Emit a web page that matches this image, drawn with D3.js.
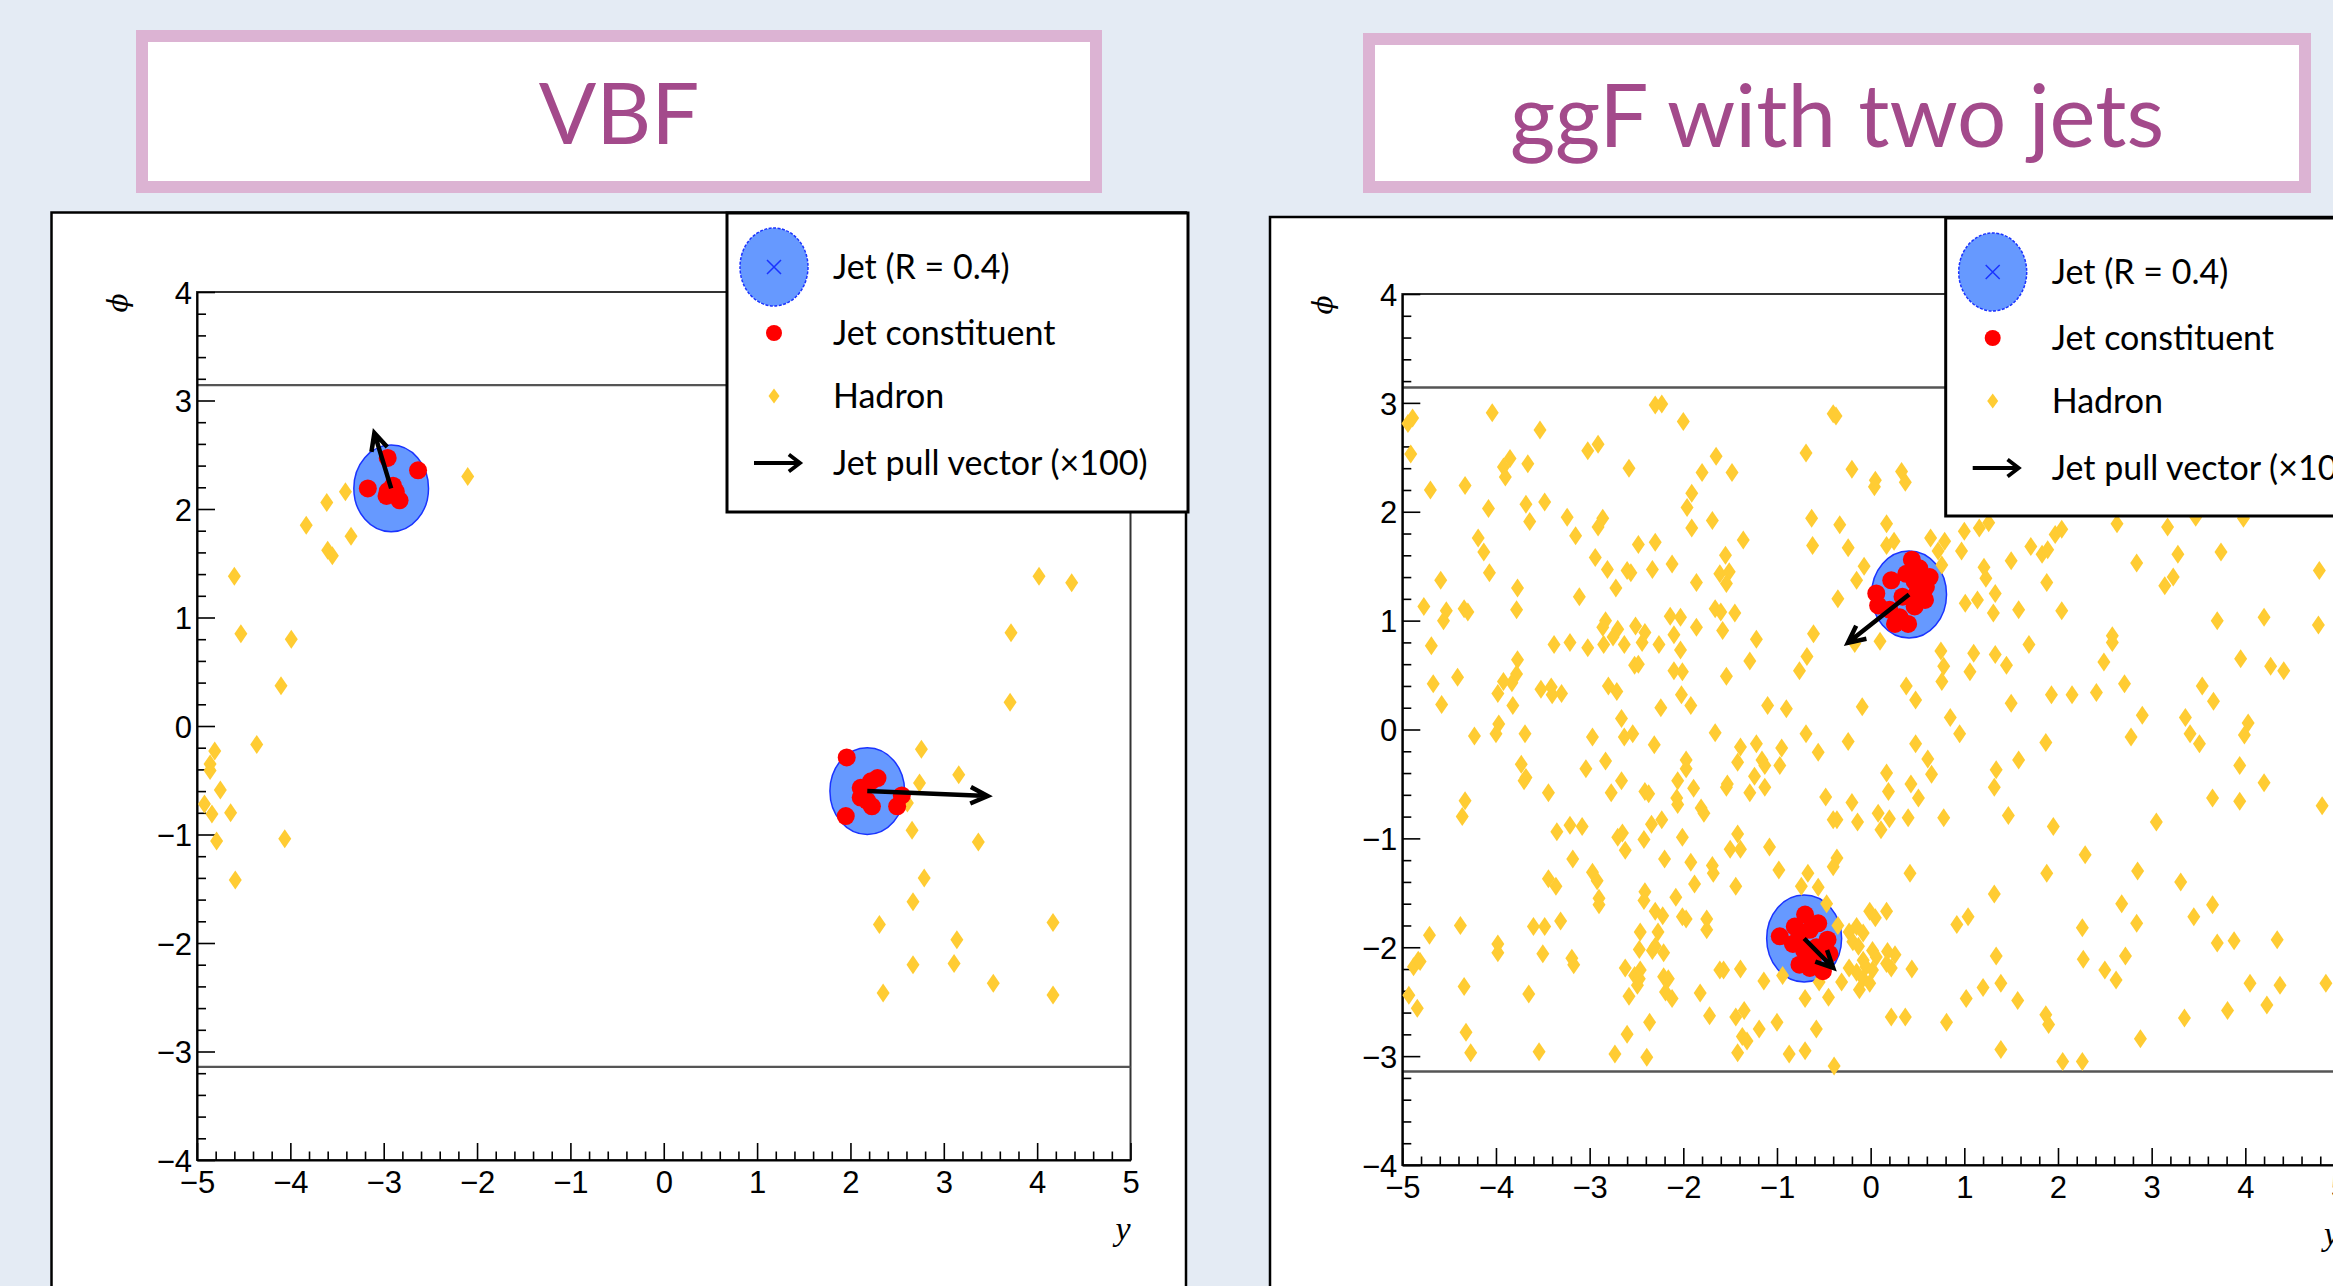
<!DOCTYPE html>
<html><head><meta charset="utf-8">
<script src="https://cdn.jsdelivr.net/npm/d3@7"></script>
<style>
html,body{margin:0;padding:0;background:#e4ebf4;overflow:hidden}
svg{display:block}
</style></head><body>
<script>
// ---------------- DATA ----------------
const panelTitles = ["VBF", "ggF with two jets"];
const legendLabels = ["Jet (R = 0.4)", "Jet constituent", "Hadron", "Jet pull vector (\u00d7100)"];
const xTicks = [-5,-4,-3,-2,-1,0,1,2,3,4,5];
const yTicks = [-4,-3,-2,-1,0,1,2,3,4];
const xLabel = "y";
const yLabel = "\u03d5";
const jetRadius = 0.4;

// VBF event: [rapidity y, phi]
const vbfJets = [[-2.92,2.19],[2.18,-0.60]];
const vbfPullEnds = [[-3.10,2.70],[3.47,-0.645]];
const vbfConstituents = [
 [-2.957,2.471],[-2.632,2.356],[-3.17,2.19],[-2.957,2.166],[-2.90,2.215],[-2.87,2.16],[-2.83,2.08],[-2.97,2.12],
 [1.96,-0.29],[2.29,-0.48],[2.22,-0.51],[2.11,-0.57],[2.11,-0.66],[2.23,-0.74],[2.55,-0.64],[2.50,-0.74],[1.95,-0.83],[2.18,-0.69]
];
const vbfHadrons = [
 [-2.10,2.30],[-3.41,2.16],[-3.61,2.06],[-3.83,1.85],[-3.35,1.75],[-3.60,1.62],[-3.55,1.57],[-4.60,1.38],[-4.53,0.85],[-3.99,0.80],
 [-4.10,0.37],[-4.36,-0.17],[-4.81,-0.23],[-4.86,-0.35],[-4.86,-0.41],[-4.75,-0.59],[-4.92,-0.72],[-4.84,-0.81],[-4.64,-0.80],[-4.79,-1.06],
 [-4.06,-1.04],[-4.59,-1.42],
 [3.71,0.22],[3.72,0.86],[4.02,1.38],[4.37,1.32],[2.76,-0.215],[3.16,-0.45],[2.74,-0.525],[2.61,-0.71],[2.66,-0.96],[3.37,-1.07],
 [2.79,-1.40],[2.67,-1.62],[2.31,-1.83],[3.14,-1.97],[4.17,-1.81],[2.67,-2.20],[3.11,-2.19],[3.53,-2.37],[2.35,-2.46],[4.17,-2.48]
];

// ggF event with two jets
const ggfJets = [[0.41,1.24],[-0.71,-1.92]];
const ggfPullEnds = [[-0.243,0.796],[-0.40,-2.19]];
const ggfConstituents = [
 [0.44,1.56],[0.52,1.48],[0.63,1.40],[0.59,1.31],[0.22,1.37],[0.06,1.25],[0.08,1.14],[0.38,1.43],[0.47,1.36],[0.50,1.26],
 [0.47,1.13],[0.31,1.03],[0.40,0.97],[0.26,0.97],[0.20,1.10],[0.58,1.19],[0.34,1.22],
 [-0.70,-1.70],[-0.56,-1.78],[-0.81,-1.81],[-0.97,-1.90],[-0.76,-1.89],[-0.65,-1.84],[-0.46,-1.93],[-0.83,-1.97],[-0.71,-2.03],
 [-0.58,-2.00],[-0.44,-2.06],[-0.76,-2.16],[-0.65,-2.19],[-0.51,-2.22],[-0.62,-2.12]
];
const ggfHadrons = [
 [-4.94,2.81],[-4.89,2.86],[-4.91,2.53],[-4.04,2.91],[-3.53,2.75],[-2.30,2.98],[-2.23,2.99],[-2.00,2.83],[-3.02,2.56],[-2.91,2.62],
 [-3.85,2.49],[-3.92,2.41],[-3.90,2.32],[-3.66,2.44],[-2.58,2.40],[-1.80,2.36],[-4.70,2.20],[-4.33,2.24],[-4.08,2.03],[-3.68,2.07],
 [-3.64,1.91],[-3.48,2.09],[-3.24,1.95],[-3.15,1.78],[-2.91,1.86],[-2.86,1.94],[-1.91,2.17],[-1.96,2.04],[-1.91,1.85],
 [-4.19,1.76],[-4.13,1.63],[-4.07,1.44],[-4.59,1.37],[-3.77,1.30],[-3.11,1.22],[-2.94,1.58],[-2.81,1.47],[-2.72,1.30],[-2.60,1.46],[-2.56,1.44],
 [-2.48,1.70],[-2.30,1.72],[-2.33,1.47],[-2.12,1.52],[-1.86,1.35],[-4.77,1.13],[-4.53,1.09],[-4.56,1.00],[-4.34,1.11],[-4.30,1.08],
 [-3.78,1.10],[-2.83,1.00],[-2.86,0.94],[-2.75,0.85],[-2.70,0.92],[-2.51,0.95],[-2.41,0.89],[-2.44,0.80],[-2.14,1.04],[-2.03,1.03],
 [-2.10,0.87],[-1.86,0.94],[-4.69,0.77],[-3.38,0.78],[-3.21,0.80],[-3.02,0.75],[-2.85,0.78],[-2.63,0.78],[-2.26,0.78],[-2.03,0.73],
 [-3.77,0.64],[-3.78,0.51],[-3.83,0.43],[-3.92,0.44],[-2.52,0.59],[-2.48,0.60],[-2.10,0.54],[-2.01,0.53],[-4.67,0.42],[-4.41,0.48],
 [-3.98,0.33],[-3.52,0.37],[-3.41,0.39],[-3.40,0.32],[-3.30,0.33],[-2.80,0.40],[-2.71,0.35],[-2.02,0.32],[-4.58,0.23],[-3.82,0.22],
 [-2.24,0.20],[-1.92,0.22],[-2.66,0.10],[-3.97,0.05],
 [-0.40,2.90],[-0.37,2.88],[-1.65,2.51],[-1.48,2.36],[-0.69,2.54],[-0.20,2.39],[0.05,2.29],[0.04,2.23],[0.33,2.37],[0.37,2.27],
 [-1.69,1.92],[-0.63,1.94],[-0.33,1.88],[0.17,1.89],[-1.36,1.74],[-0.62,1.69],[-0.24,1.67],[0.17,1.69],[0.25,1.73],[0.64,1.76],
 [0.79,1.73],[0.72,1.64],[1.00,1.82],[1.16,1.85],[1.26,1.90],[0.97,1.64],[-1.55,1.60],[-1.61,1.43],[-1.51,1.45],[-1.54,1.34],
 [-0.07,1.50],[-0.15,1.37],[0.76,1.51],[1.50,1.55],[1.21,1.49],[1.23,1.39],[1.33,1.25],[-1.66,1.11],[-1.60,1.08],[-1.45,1.07],
 [-0.35,1.20],[1.01,1.16],[1.14,1.19],[1.31,1.07],[1.58,1.10],[-1.58,0.91],[-1.22,0.83],[-0.61,0.88],[-1.29,0.63],[-0.68,0.67],
 [-0.76,0.54],[-1.54,0.49],[0.10,0.81],[-0.17,0.79],[0.75,0.72],[0.78,0.58],[0.76,0.44],[1.06,0.53],[1.10,0.70],[1.33,0.69],
 [1.45,0.59],[0.38,0.40],[0.48,0.27],[-1.10,0.22],[-0.90,0.19],[-0.09,0.21],[1.50,0.24],[0.85,0.11],[-1.66,-0.03],
 [2.63,1.89],[3.17,1.86],[3.47,1.95],[3.98,1.94],[1.97,1.79],[2.04,1.84],[1.71,1.68],[1.83,1.61],[1.89,1.65],[2.84,1.53],
 [3.28,1.61],[3.74,1.63],[3.23,1.40],[3.14,1.32],[4.79,1.46],[1.88,1.35],[2.04,1.09],[3.70,1.00],[4.20,1.03],[4.78,0.96],
 [2.58,0.86],[2.58,0.80],[1.69,0.78],[2.49,0.62],[3.95,0.65],[4.27,0.58],[4.41,0.54],[2.71,0.42],[3.54,0.40],[3.66,0.26],
 [1.93,0.32],[2.15,0.32],[2.41,0.34],[2.90,0.13],[3.36,0.11],[4.03,0.06],
 [-4.23,-0.06],[-4.00,-0.04],[-3.69,-0.04],[-2.97,-0.07],[-2.63,-0.07],[-2.54,-0.04],[-2.31,-0.14],[-3.73,-0.32],[-3.70,-0.47],[-3.68,-0.44],
 [-3.44,-0.58],[-3.04,-0.36],[-2.83,-0.29],[-2.77,-0.58],[-2.66,-0.47],[-2.41,-0.57],[-2.37,-0.59],[-1.97,-0.28],[-1.97,-0.36],[-2.06,-0.47],
 [-1.89,-0.54],[-2.07,-0.63],[-2.06,-0.69],[-4.33,-0.655],[-4.36,-0.80],[-3.35,-0.94],[-3.21,-0.88],[-3.08,-0.89],[-2.70,-0.99],[-2.65,-0.95],
 [-2.62,-1.11],[-2.42,-1.01],[-2.34,-0.87],[-2.23,-0.83],[-2.01,-0.99],[-1.81,-0.72],[-1.78,-0.77],[-3.18,-1.19],[-2.20,-1.19],[-1.92,-1.22],
 [-3.44,-1.37],[-3.36,-1.44],[-2.97,-1.31],[-2.92,-1.39],[-2.90,-1.55],[-2.90,-1.61],[-2.41,-1.49],[-2.42,-1.57],[-2.08,-1.54],[-1.88,-1.42],
 [-4.38,-1.80],[-4.71,-1.89],[-3.60,-1.81],[-3.48,-1.81],[-3.31,-1.76],[-2.30,-1.67],[-2.22,-1.71],[-2.01,-1.72],[-1.97,-1.74],[-1.75,-1.74],
 [-1.75,-1.84],[-3.98,-1.97],[-3.98,-2.05],[-3.50,-2.06],[-3.19,-2.10],[-3.17,-2.16],[-2.46,-1.86],[-2.27,-1.86],[-2.47,-2.02],[-2.33,-2.03],
 [-2.30,-1.99],[-2.21,-2.05],[-4.88,-2.18],[-4.83,-2.12],[-4.81,-2.13],[-2.62,-2.19],[-2.52,-2.26],[-2.46,-2.21],[-2.47,-2.29],[-2.49,-2.35],
 [-2.21,-2.27],[-2.16,-2.29],[-2.58,-2.45],[-2.19,-2.41],[-2.12,-2.47],[-1.82,-2.42],[-4.93,-2.44],[-4.84,-2.56],[-4.34,-2.36],[-3.65,-2.43],
 [-1.72,-2.63],[-2.36,-2.69],[-4.32,-2.78],[-2.60,-2.80],[-4.27,-2.97],[-3.54,-2.96],[-2.73,-2.98],[-2.39,-3.01],[-1.69,-1.25],[-1.68,-1.32],
 [-1.39,-0.16],[-1.22,-0.13],[-0.95,-0.17],[-0.69,-0.04],[-0.24,-0.11],[-0.56,-0.21],[0.48,-0.13],[0.95,-0.04],[-1.42,-0.30],[-1.16,-0.28],
 [-1.13,-0.33],[-0.97,-0.33],[-1.24,-0.43],[-1.53,-0.50],[-1.54,-0.53],[-1.13,-0.53],[-1.29,-0.58],[0.61,-0.27],[0.65,-0.41],[0.17,-0.40],
 [0.19,-0.57],[0.43,-0.50],[0.51,-0.63],[-0.48,-0.62],[-0.20,-0.67],[-0.40,-0.83],[-0.36,-0.83],[-0.14,-0.85],[0.08,-0.77],[0.20,-0.82],
 [0.11,-0.92],[0.40,-0.81],[0.78,-0.81],[1.34,-0.37],[1.32,-0.53],[1.58,-0.28],[1.47,-0.79],[-1.42,-0.96],[-1.50,-1.10],[-1.39,-1.10],
 [-1.08,-1.08],[-0.98,-1.29],[-1.44,-1.44],[-0.67,-1.32],[-0.36,-1.18],[-0.40,-1.26],[-0.74,-1.44],[-0.56,-1.45],[-0.47,-1.60],[0.42,-1.32],
 [1.32,-1.51],[-0.01,-1.67],[0.05,-1.73],[0.17,-1.67],[-0.35,-1.80],[-0.23,-1.86],[-0.15,-1.81],[-0.08,-1.87],[-0.19,-1.95],[-0.13,-1.99],
 [0.02,-2.03],[0.06,-2.09],[0.18,-2.04],[0.26,-2.07],[-0.08,-2.12],[-0.23,-2.19],[-0.15,-2.23],[-0.05,-2.18],[0.02,-2.21],[0.17,-2.15],
 [0.22,-2.19],[-0.08,-2.29],[-0.01,-2.33],[-0.12,-2.39],[-0.31,-2.32],[0.44,-2.20],[0.92,-1.79],[1.04,-1.72],[1.34,-2.08],[1.39,-2.33],
 [1.20,-2.37],[1.02,-2.47],[1.57,-2.49],[-1.61,-2.21],[-1.57,-2.21],[-1.39,-2.20],[-1.14,-2.31],[-0.94,-2.26],[-0.55,-2.32],[-0.70,-2.47],
 [-0.45,-2.46],[-1.44,-2.64],[-1.35,-2.58],[-1.19,-2.75],[-1.00,-2.69],[-0.58,-2.75],[-1.37,-2.82],[-1.32,-2.86],[-1.42,-2.97],[-0.87,-2.98],
 [-0.70,-2.95],[-0.39,-3.09],[0.22,-2.64],[0.37,-2.64],[0.81,-2.69],[1.39,-2.94],
 [1.87,-0.12],[2.78,-0.07],[3.41,-0.04],[3.51,-0.13],[3.99,-0.05],[3.94,-0.33],[4.20,-0.49],[3.65,-0.63],[3.94,-0.66],[4.82,-0.70],
 [1.95,-0.89],[3.05,-0.85],[2.29,-1.15],[1.88,-1.32],[2.85,-1.30],[3.31,-1.40],[2.68,-1.60],[3.65,-1.61],[3.45,-1.72],[2.26,-1.82],
 [2.84,-1.78],[3.70,-1.96],[3.88,-1.94],[4.34,-1.93],[2.27,-2.11],[2.72,-2.08],[2.50,-2.21],[2.62,-2.30],[4.05,-2.33],[4.37,-2.35],
 [4.86,-2.33],[1.87,-2.62],[1.90,-2.71],[3.35,-2.65],[3.81,-2.58],[4.23,-2.53],[2.88,-2.84],[2.05,-3.05],[2.26,-3.05]
];

// ---------------- LAYOUT ----------------
const W = 2333, H = 1286;
const layouts = [
  { title:{x0:136,y0:30,x1:1102,y1:193,tx:619,ty:144,fs:85},
    panel:{x0:51.5,y0:212.5,x1:1186,y1:1320},
    plot:{x0:197,x1:1130.5,yTop:292,yBot:1160},
    legend:{x0:727,y0:213,x1:1188,y1:512},
    data:{jets:vbfJets,pulls:vbfPullEnds,cons:vbfConstituents,had:vbfHadrons} },
  { title:{x0:1363,y0:33,x1:2311,y1:193,tx:1837,ty:147,fs:87},
    panel:{x0:1270,y0:217,x1:2420,y1:1320},
    plot:{x0:1402.3,x1:2339,yTop:294,yBot:1165},
    legend:{x0:1945.7,y0:218,x1:2420,y1:516},
    data:{jets:ggfJets,pulls:ggfPullEnds,cons:ggfConstituents,had:ggfHadrons} }
];

const COL = {bg:"#e4ebf4", pink:"#dcb3d3", titleText:"#a34a8b", jetFill:"#6699ff", jetStroke:"#1a33ff",
             red:"#ff0000", hadron:"#ffcc33", frame:"#333333", pi:"#555555"};

const svg = d3.select("body").append("svg").attr("width",W).attr("height",H);
svg.append("rect").attr("width",W).attr("height",H).attr("fill",COL.bg);

const diamond = (w,h) => `M0,${-h/2}L${w/2},0L0,${h/2}L${-w/2},0Z`;

function arrowPath(x1,y1,x2,y2,len,ang){
  const a = Math.atan2(y2-y1,x2-x1);
  const p1 = [x2 - len*Math.cos(a-ang), y2 - len*Math.sin(a-ang)];
  const p2 = [x2 - len*Math.cos(a+ang), y2 - len*Math.sin(a+ang)];
  return `M${x1},${y1}L${x2},${y2}M${p1[0]},${p1[1]}L${x2},${y2}L${p2[0]},${p2[1]}`;
}

layouts.forEach((L,i) => {
  const g = svg.append("g");
  // title box
  const bw = 12;
  g.append("rect").attr("x",L.title.x0+bw/2).attr("y",L.title.y0+bw/2)
    .attr("width",L.title.x1-L.title.x0-bw).attr("height",L.title.y1-L.title.y0-bw)
    .attr("fill","#ffffff").attr("stroke",COL.pink).attr("stroke-width",bw);
  g.append("text").attr("x",L.title.tx).attr("y",L.title.ty).attr("text-anchor","middle")
    .attr("font-family","Lato, 'Open Sans', sans-serif").attr("font-size",L.title.fs)
    .attr("fill",COL.titleText).text(panelTitles[i]);

  // panel
  g.append("rect").attr("x",L.panel.x0).attr("y",L.panel.y0)
    .attr("width",L.panel.x1-L.panel.x0).attr("height",L.panel.y1-L.panel.y0)
    .attr("fill","#ffffff").attr("stroke","#000").attr("stroke-width",2.5);

  const x = d3.scaleLinear().domain([-5,5]).range([L.plot.x0,L.plot.x1]);
  const y = d3.scaleLinear().domain([-4,4]).range([L.plot.yBot,L.plot.yTop]);

  // frame
  g.append("rect").attr("x",x(-5)).attr("y",y(4)).attr("width",x(5)-x(-5)).attr("height",y(-4)-y(4))
    .attr("fill","none").attr("stroke",COL.frame).attr("stroke-width",2);
  // +-pi lines
  [Math.PI,-Math.PI].forEach(v => {
    g.append("line").attr("x1",x(-5)).attr("x2",x(5)).attr("y1",y(v)).attr("y2",y(v))
      .attr("stroke",COL.pi).attr("stroke-width",2.4);
  });

  // axes
  const minorX = d3.range(-50,51,2).map(d=>d/10).filter(d=>!xTicks.includes(d));
  const minorY = d3.range(-40,41,2).map(d=>d/10).filter(d=>!yTicks.includes(d));
  const axFont = "'Liberation Sans', Arial, sans-serif";
  const gxm = g.append("g").attr("transform",`translate(0,${y(-4)})`)
    .call(d3.axisBottom(x).tickValues(minorX).tickSize(-8.5).tickFormat("").tickSizeOuter(0));
  gxm.select(".domain").remove();
  const gx = g.append("g").attr("transform",`translate(0,${y(-4)})`)
    .call(d3.axisBottom(x).tickValues(xTicks).tickSize(-17).tickPadding(11).tickSizeOuter(0));
  const gym = g.append("g").attr("transform",`translate(${x(-5)},0)`)
    .call(d3.axisLeft(y).tickValues(minorY).tickSize(-9).tickFormat("").tickSizeOuter(0));
  gym.select(".domain").remove();
  const gy = g.append("g").attr("transform",`translate(${x(-5)},0)`)
    .call(d3.axisLeft(y).tickValues(yTicks).tickSize(-18).tickPadding(5).tickSizeOuter(0));
  [gx,gy,gxm,gym].forEach(a => {
    a.selectAll("line").attr("stroke","#000").attr("stroke-width",1.6);
    a.selectAll(".domain").attr("stroke","#000").attr("stroke-width",2);
    a.selectAll("text").attr("font-family",axFont).attr("font-size",31).attr("fill","#000");
  });
  gx.selectAll("text").attr("dy","0.72em");
  gy.selectAll("text").attr("dy","0.36em");

  // axis titles
  g.append("text").attr("x",x(5)).attr("y",y(-4)+80).attr("text-anchor","end")
    .attr("font-family","'Liberation Serif', serif").attr("font-style","italic").attr("font-size",34)
    .text(xLabel);
  g.append("text").attr("transform",`translate(${x(-5)-70},${y(4)+11}) rotate(-90)`)
    .attr("text-anchor","middle").attr("font-family","'DejaVu Serif', serif").attr("font-style","italic")
    .attr("font-size",28).text(yLabel);

  const D = L.data;
  // jets
  g.selectAll(".jet").data(D.jets).enter().append("ellipse")
    .attr("cx",d=>x(d[0])).attr("cy",d=>y(d[1]))
    .attr("rx",d=>x(d[0]+jetRadius)-x(d[0])).attr("ry",d=>y(d[1]-jetRadius)-y(d[1]))
    .attr("fill",COL.jetFill).attr("stroke",COL.jetStroke).attr("stroke-width",1.5);
  // hadrons
  g.selectAll(".had").data(D.had).enter().append("path")
    .attr("d",diamond(13,19)).attr("transform",d=>`translate(${x(d[0])},${y(d[1])})`)
    .attr("fill",COL.hadron);
  // constituents
  g.selectAll(".con").data(D.cons).enter().append("circle")
    .attr("cx",d=>x(d[0])).attr("cy",d=>y(d[1])).attr("r",9).attr("fill",COL.red);
  // pull vectors
  g.selectAll(".pull").data(D.jets).enter().append("path")
    .attr("d",(d,k)=>arrowPath(x(d[0]),y(d[1]),x(D.pulls[k][0]),y(D.pulls[k][1]),19,0.45))
    .attr("fill","none").attr("stroke","#000").attr("stroke-width",4.5);

  // legend
  const lg = g.append("g");
  lg.append("rect").attr("x",L.legend.x0).attr("y",L.legend.y0)
    .attr("width",L.legend.x1-L.legend.x0).attr("height",L.legend.y1-L.legend.y0)
    .attr("fill","#fff").attr("stroke","#000").attr("stroke-width",3);
  const mx = L.legend.x0 + 47, tx = L.legend.x0 + 106;
  const rows = [54,120,183,250].map(o => L.legend.y0 + o);
  lg.append("ellipse").attr("cx",mx).attr("cy",rows[0]).attr("rx",34).attr("ry",39)
    .attr("fill",COL.jetFill).attr("stroke",COL.jetStroke).attr("stroke-width",1.5).attr("stroke-dasharray","3,1.5");
  lg.append("path").attr("d",`M${mx-7},${rows[0]-7}L${mx+7},${rows[0]+7}M${mx-7},${rows[0]+7}L${mx+7},${rows[0]-7}`)
    .attr("stroke","#1a33ff").attr("stroke-width",1.5);
  lg.append("circle").attr("cx",mx).attr("cy",rows[1]).attr("r",8).attr("fill",COL.red);
  lg.append("path").attr("d",diamond(11,15)).attr("transform",`translate(${mx},${rows[2]})`).attr("fill",COL.hadron);
  lg.append("path").attr("d",arrowPath(mx-20,rows[3],mx+26,rows[3],14,0.65))
    .attr("fill","none").attr("stroke","#000").attr("stroke-width",3.8);
  lg.selectAll(".lt").data(legendLabels).enter().append("text")
    .attr("x",tx).attr("y",(d,k)=>rows[k]).attr("dy","0.35em")
    .attr("font-family","Lato, 'Open Sans', sans-serif").attr("font-size",34).attr("fill","#000")
    .text(d=>d);
});
</script>
</body></html>
